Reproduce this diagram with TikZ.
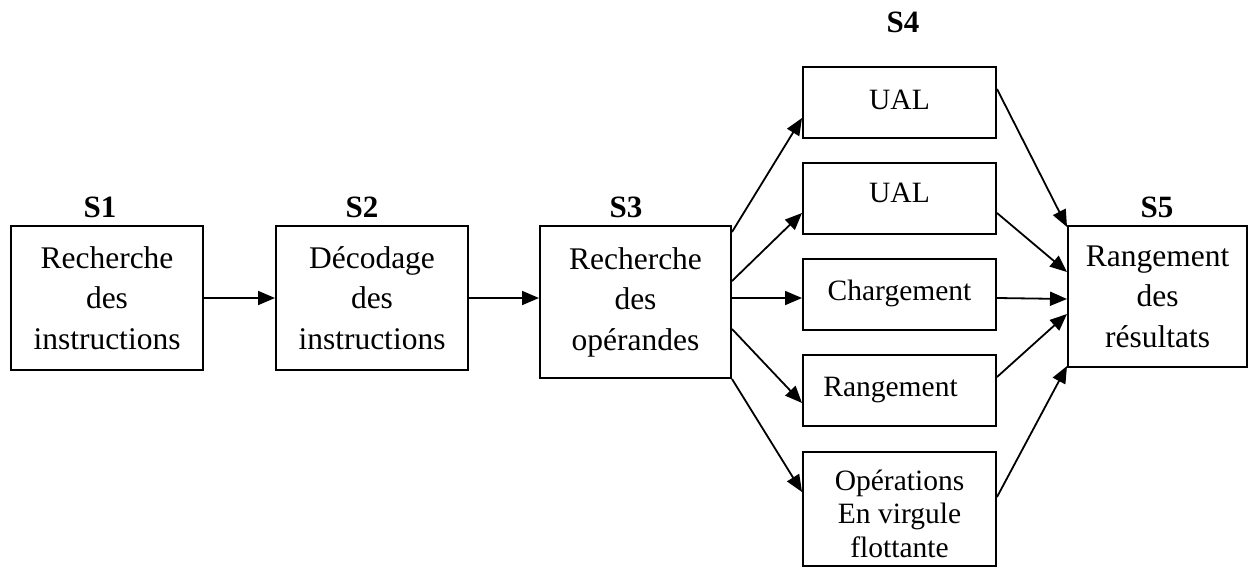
\documentclass[tikz,border=0pt]{standalone}
\usepackage{fontspec}
\setmainfont{Liberation Serif}
\usetikzlibrary{arrows.meta}

\tikzset{
  stage/.style={draw, line width=2pt, inner sep=0pt, align=center,
                font=\fontsize{31.5}{40.5}\selectfont},
  unit/.style={draw, line width=2pt, inner sep=0pt, align=center,
               minimum width=193pt, minimum height=71pt,
               font=\fontsize{29.5}{33.5}\selectfont},
  tag/.style={font=\bfseries\fontsize{31}{31}\selectfont},
  link/.style={line width=1.8pt, -{Triangle[length=17pt,width=14pt]}},
}

\begin{document}
\begin{tikzpicture}[x=1pt, y=-1pt]
\useasboundingbox (0,0) rectangle (1248,568);

% pipeline stages
\node[stage, minimum width=192pt, minimum height=144pt] (s1) at (107,298)
  {Recherche\\des\\instructions};
\node[stage, minimum width=192pt, minimum height=144pt] (s2) at (372,298)
  {Décodage\\des\\instructions};
\node[stage, minimum width=191pt, minimum height=152pt] (s3) at (635.5,302)
  {Recherche\\des\\opérandes};
\node[stage, minimum width=179pt, minimum height=141pt] (s5) at (1157.5,296.5)
  {Rangement\\des\\résultats};

% execution units of stage S4
\node[unit] (u1) at (899.5,102.5) {\raisebox{6pt}{UAL}};
\node[unit] (u2) at (899.5,198.5) {\raisebox{12pt}{UAL}};
\node[unit] (u3) at (899.5,294.5) {\raisebox{8pt}{Chargement}};
\node[unit] (u4) at (899.5,390.5) {\hspace*{-18pt}\raisebox{5pt}{Rangement}};
\node[unit, minimum height=114pt] (o) at (899.5,509)
  {\rule{0pt}{30pt}Opérations\\En virgule\\flottante};

% thinner middle part of the stage boxes' top edges
\foreach \n in {s1,s2,s3,s5}{
  \draw[white, line width=2.8pt] ([xshift=47pt]\n.north west) -- ([xshift=-47pt]\n.north east);
  \draw[line width=1pt] ([xshift=47pt,yshift=-0.6pt]\n.north west) -- ([xshift=-47pt,yshift=-0.6pt]\n.north east);
}

% stage labels
\node[tag] (t1) at (100,207) {S1};
\node[tag] (t2) at (362,207) {S2};
\node[tag] (t3) at (626,207) {S3};
\node[tag] (t4) at (903,22) {S4};
\node[tag] (t5) at (1157,207) {S5};

% sequential flow
\draw[link] (s1.east) -- (s2.west);
\draw[link] (s2.east) -- ([yshift=4pt]s3.west);

% dispatch to the units
\draw[link] ([yshift=-7pt]s3.north east) -- ([yshift=21pt]u1.south west);
\draw[link] ([yshift=-56pt]s3.north east) -- ([yshift=22pt]u2.south west);
\draw[link] ([yshift=4pt]s3.east) -- ([yshift=-3.5pt]u3.west);
\draw[link] ([yshift=-104pt]s3.north east) -- ([yshift=24pt]u4.south west);
\draw[link] (s3.south east) -- ([yshift=-41pt]o.north west);

% results to the write-back stage
\draw[link] ([yshift=-23pt]u1.north east) -- ([yshift=-2pt]s5.north west);
\draw[link] ([yshift=22pt]u2.south east) -- ([yshift=-47pt]s5.north west);
\draw[link] ([yshift=-3.5pt]u3.east) -- ([yshift=-74pt]s5.north west);
\draw[link] ([yshift=-23pt]u4.north east) -- ([yshift=-89pt]s5.north west);
\draw[link] ([yshift=-46pt]o.north east) -- ([yshift=2pt]s5.south west);
\end{tikzpicture}
\end{document}
